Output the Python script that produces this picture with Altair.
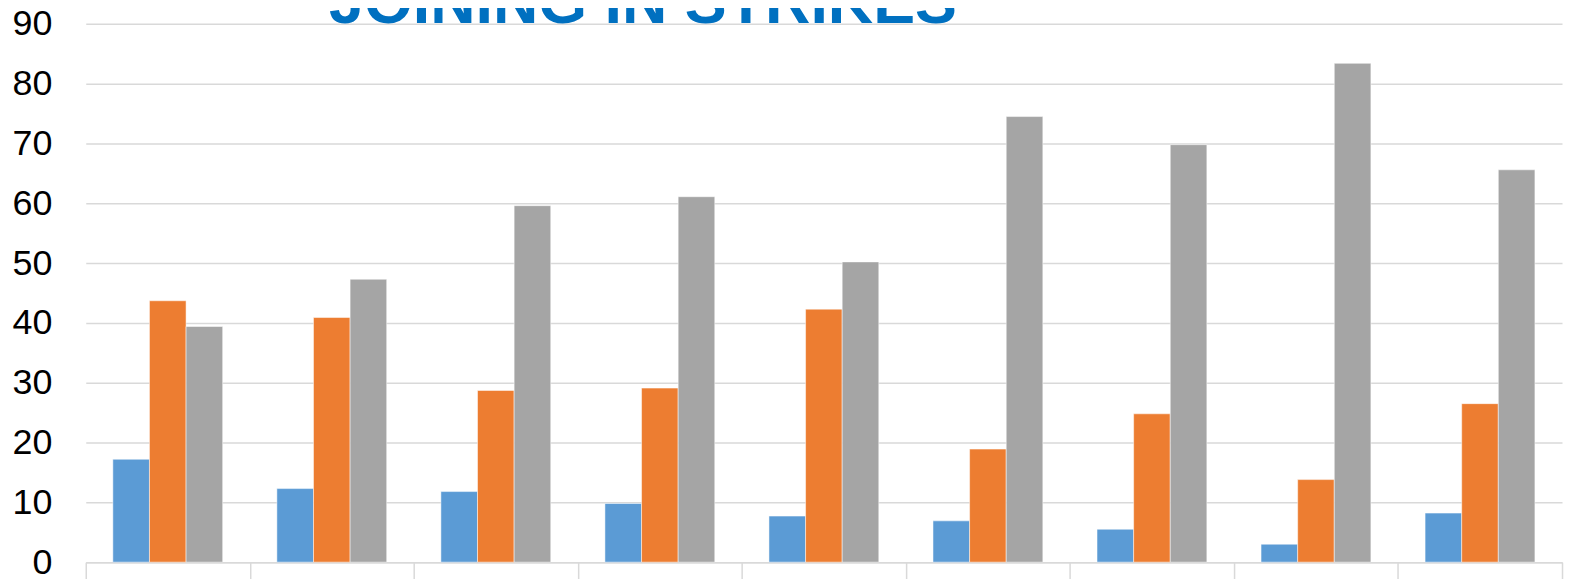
import altair as alt
import pandas as pd

groups = ["1", "2", "3", "4", "5", "6", "7", "8", "9"]
series = ["Series 1", "Series 2", "Series 3"]
series1 = [17.2, 12.3, 11.8, 9.8, 7.7, 6.9, 5.5, 3.0, 8.2]
series2 = [43.7, 40.9, 28.7, 29.1, 42.3, 18.9, 24.8, 13.8, 26.5]
series3 = [39.4, 47.3, 59.6, 61.1, 50.2, 74.5, 69.8, 83.4, 65.6]
colors = ["#5B9BD5", "#ED7D31", "#A5A5A5"]
title_text = "JOINING IN STRIKES"

rows = []
for i, g in enumerate(groups):
    for s, vals in zip(series, [series1, series2, series3]):
        rows.append({"group": g, "series": s, "value": vals[i]})
df = pd.DataFrame(rows)

W = 1481
H = 540

bars = alt.Chart(df).mark_bar(stroke="white", strokeWidth=0.5).encode(
    x=alt.X("group:N", sort=groups,
            scale=alt.Scale(paddingInner=0, paddingOuter=0),
            axis=alt.Axis(title=None, tickBand="extent", labels=False,
                          domainColor="#D9D9D9", domainWidth=1.5,
                          tickColor="#D9D9D9", tickWidth=1.5, tickSize=22,
                          grid=False)),
    xOffset=alt.XOffset("series:N", sort=series,
                        scale=alt.Scale(paddingInner=0, paddingOuter=0.74)),
    y=alt.Y("value:Q", scale=alt.Scale(domain=[0, 90], nice=False),
            axis=alt.Axis(title=None, values=list(range(0, 100, 10)),
                          grid=True, gridColor="#D9D9D9", gridWidth=1.5,
                          domain=False, ticks=False,
                          labelFontSize=36, labelFont="Liberation Sans",
                          labelColor="#000000", labelPadding=34)),
    color=alt.Color("series:N", sort=series,
                    scale=alt.Scale(domain=series, range=colors), legend=None),
)

title = alt.Chart(pd.DataFrame({"t": [title_text]})).mark_text(
    font="Liberation Sans", fontWeight="bold", fontSize=63,
    color="#0070C0", baseline="alphabetic", align="center",
).encode(
    text="t:N",
    x=alt.value(559),
    y=alt.value(-1),
)

chart = alt.layer(bars, title).properties(
    width=W,
    height=H,
    background="white",
    autosize=alt.AutoSizeParams(type="none"),
    padding={"top": 15, "left": 78, "right": 3, "bottom": 16},
).configure_view(strokeWidth=0, strokeOpacity=0)

chart.save("out.html", embed_options={"renderer": "svg", "actions": False})
